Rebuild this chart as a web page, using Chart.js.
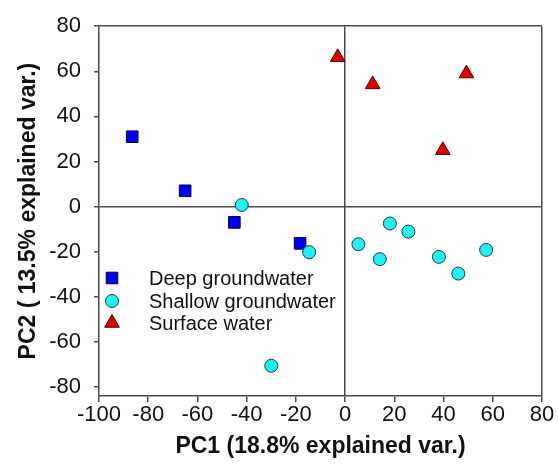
<!DOCTYPE html>
<html>
<head>
<meta charset="utf-8">
<title>PCA scores</title>
<script src="https://cdn.jsdelivr.net/npm/chart.js@4/dist/chart.umd.min.js"></script>
<style>
  html, body { margin: 0; padding: 0; background: #fff; }
  canvas { display: block; }
</style>
</head>
<body>
<canvas id="pcaChart" width="558" height="468"></canvas>
<script>
// sample scores (PC1, PC2)
const deepPC1 = [-86.5, -65, -45, -18.3];
const deepPC2 = [31, 7, -7, -16.3];

const shallowPC1 = [-42, -14.6, 5.4, 14.1, 18.2, 25.7, 38.1, 46, 57.3, -30];
const shallowPC2 = [0.7, -20.2, -16.7, -23.3, -7.5, -11.1, -22.3, -29.7, -19.2, -70.6];

const surfacePC1 = [-3, 11.2, 49.3, 39.7];
const surfacePC2 = [66.2, 54.2, 59, 25];

const seriesNames = ["Deep groundwater", "Shallow groundwater", "Surface water"];

const xTicks = [-100, -80, -60, -40, -20, 0, 20, 40, 60, 80];
const yTicks = [-80, -60, -40, -20, 0, 20, 40, 60, 80];

const axisColor = "#4a4a4a";
const fontFamily = "'Liberation Sans', Arial, Helvetica, sans-serif";

function toPoints(xs, ys) {
    return xs.map((x, i) => ({ x: x, y: ys[i] }));
}

// grid lines only for the zero cross and the top/right frame
function frameColor(ctx) {
    const v = ctx.tick && ctx.tick.value;
    return (v === 0 || v === 80) ? axisColor : "rgba(0,0,0,0)";
}

// legend drawn inside the plot, lower left
const insideLegend = {
    id: "insideLegend",
    afterDatasetsDraw(chart) {
        const ctx = chart.ctx;
        const markX = 112, textX = 149;
        const rows = [278, 301, 323];
        ctx.save();
        chart.data.datasets.forEach((ds, i) => {
            const opts = {
                pointStyle: ds.pointStyle,
                radius: ds.pointRadius,
                borderWidth: ds.borderWidth,
                rotation: 0
            };
            ctx.fillStyle = ds.backgroundColor;
            ctx.strokeStyle = ds.borderColor;
            ctx.lineWidth = ds.borderWidth;
            Chart.helpers.drawPoint(ctx, opts, markX, rows[i]);
            ctx.fillStyle = "#111";
            ctx.font = "20px " + fontFamily;
            ctx.textAlign = "left";
            ctx.textBaseline = "middle";
            ctx.fillText(ds.label, textX, rows[i] + 1);
        });
        ctx.restore();
    }
};

new Chart("pcaChart", {
    type: "scatter",
    data: {
        datasets: [{
            label: seriesNames[0],
            data: toPoints(deepPC1, deepPC2),
            pointStyle: "rect",
            pointRadius: 8.2,
            backgroundColor: "#0000ee",
            borderColor: "#00005a",
            borderWidth: 1,
            order: 2
        }, {
            label: seriesNames[1],
            data: toPoints(shallowPC1, shallowPC2),
            pointStyle: "circle",
            pointRadius: 6.5,
            backgroundColor: "#1ff0f0",
            borderColor: "#1c3c48",
            borderWidth: 1,
            order: 1
        }, {
            label: seriesNames[2],
            data: toPoints(surfacePC1, surfacePC2),
            pointStyle: "triangle",
            pointRadius: 8.5,
            backgroundColor: "#e00000",
            borderColor: "#5a0000",
            borderWidth: 1,
            order: 0
        }]
    },
    options: {
        responsive: false,
        devicePixelRatio: 1,
        animation: false,
        layout: { padding: { top: 23, right: 16, bottom: 0, left: 0 } },
        plugins: {
            legend: { display: false },
            tooltip: { enabled: false }
        },
        scales: {
            x: {
                type: "linear",
                min: -100,
                max: 80,
                afterBuildTicks: (scale) => { scale.ticks = xTicks.map(v => ({ value: v })); },
                afterFit: (scale) => { scale.height = 72; },
                border: { display: true, color: axisColor, width: 1.5 },
                grid: {
                    drawOnChartArea: true,
                    color: frameColor,
                    lineWidth: 1.5,
                    tickColor: axisColor,
                    tickLength: 6
                },
                ticks: {
                    color: "#111",
                    font: { family: fontFamily, size: 22 },
                    padding: 0,
                    maxRotation: 0
                },
                title: {
                    display: true,
                    text: "PC1 (18.8% explained var.)",
                    color: "#111",
                    font: { family: fontFamily, size: 23, weight: "bold" },
                    padding: { top: 0, bottom: 8 }
                }
            },
            y: {
                type: "linear",
                min: -84,
                max: 80,
                afterBuildTicks: (scale) => { scale.ticks = yTicks.map(v => ({ value: v })); },
                afterFit: (scale) => { scale.width = 99; },
                border: { display: true, color: axisColor, width: 1.5 },
                grid: {
                    drawOnChartArea: true,
                    color: frameColor,
                    lineWidth: 1.5,
                    tickColor: axisColor,
                    tickLength: 5
                },
                ticks: {
                    color: "#111",
                    font: { family: fontFamily, size: 22 },
                    padding: 13
                },
                title: {
                    display: true,
                    text: "PC2 ( 13.5% explained var.)",
                    color: "#111",
                    font: { family: fontFamily, size: 23, weight: "bold" },
                    padding: { top: 15, bottom: 0 }
                }
            }
        }
    },
    plugins: [insideLegend]
});
</script>
</body>
</html>
